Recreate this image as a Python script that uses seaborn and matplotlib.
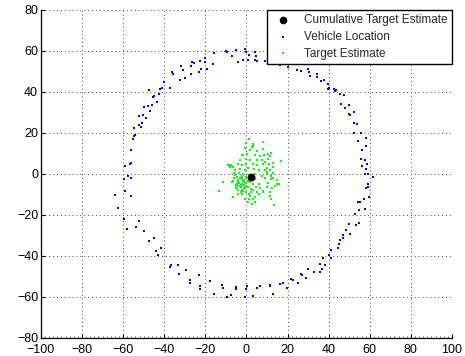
import numpy as np
import pandas as pd
import matplotlib
matplotlib.use("Agg")
import matplotlib.pyplot as plt
import seaborn as sns
from matplotlib.ticker import MultipleLocator

# Vehicle location (blue)
vehicle_x = [-9.7, -7, -5.2, -3.9, -1.8, -0.5, -0.2, 0.8, 1.1, 4.1, 4.5, 4.1, 5.3, 8.9, 11, 14.6, 16.2, 20, 20.4, 22.5,
             24.8, 26.3, 26.4, 30.1, 30.5, 30.8, 34.4, 34.5, 36.5, 37.6, 39.7, 40.2, 39.7, 42.6, 43, 43.8, 45.4, 47.3, 46.2, 48,
             50, 50, 52.5, 50.6, 52.2, 53.8, 52.2, 55.9, 54.2, 58.3, 56.4, 58, 55.6, 57.6, 56.4, 58.8, 58.3, 59.3, 57.5, 61.6,
             59.3, 59.1, 58.3, 59.6, 57, 54.3, 55.4, 57.8, 54.6, 53, 49.8, 54.9, 53.5, 48.6, 50.3, 47, 47.2, 45.4, 45.1, 44.6,
             41, 40, 41, 37.4, 35.7, 38.1, 36.8, 35.7, 32.9, 30.1, 28.8, 26.7, 26.9, 25.1, 21.7, 22.5, 17.7, 19.8, 16.5, 12.9,
             11.3, 11.7, 6.5, 5.2, 3.2, 0.3, 0, -0.8, -5.3, -5.2, -7.5, -9.7, -11.7, -11.3, -15.7, -17.5, -22.4, -22.5, -23.3, -27.6,
             -27.7, -29.2, -32.9, -33.2, -36.8, -37.1, -41.5, -42.8, -44.2, -44.9, -47.5, -49.9, -52.5, -53.8, -58.2, -59.6, -62.4, -63.9, -56.1, -59.3,
             -59.8, -57.6, -56.3, -59.3, -56.6, -56.1, -56.4, -55.4, -54.5, -54, -54.5, -52.5, -51.5, -50.6, -52.2, -50.2, -48.9, -49.8, -48.1, -46.7,
             -47.4, -45.4, -44.9, -45.9, -43.5, -42.5, -42.1, -41.2, -39.9, -37.1, -36.1, -35.7, -32.1, -31.9, -31.1, -29.7, -27.2, -26.3, -25.6, -27.2,
             -23.3, -22.7, -22, -20.3, -19.4, -20.4, -16.5, -15.7, -9.9]
vehicle_y = [59.5, 57.4, 60.6, 54.8, 55.8, 60.8, 59.5, 55.5, 58.2, 59.5, 57.4, 55.5, 55.1, 55, 54.6, 53.5, 53, 54.6, 52.2, 55,
             50.9, 53.5, 50, 51.4, 49.6, 47.6, 48.6, 47.4, 45.4, 45.7, 43.8, 42.1, 41.6, 41.6, 40.5, 40.8, 38.9, 38.4, 34.3, 32.4,
             33.5, 29.4, 30.2, 28.6, 25, 24.6, 20, 20, 16, 17.7, 11.5, 13.7, 7.2, 6.7, 3.9, 4.7, 2.3, -0.2, -0.2, -1.5,
             -5, -6.4, -6.8, -11.2, -12, -13.7, -13.7, -16.9, -17.7, -19.4, -24.6, -23.9, -24.7, -27.5, -29.1, -29.9, -31.1, -32.4, -34.3, -36.1,
             -37.2, -39.7, -40.8, -41, -43.8, -44.6, -46.2, -47.8, -47.8, -46.2, -50.7, -48.6, -49.4, -53.2, -51.1, -51.6, -53.2, -55.4, -53.5, -58.4,
             -54.8, -54.3, -54.6, -55.4, -59.6, -54.8, -56, -59.8, -55.2, -56, -58.8, -59.8, -54.3, -55.4, -58.4, -52.4, -54.6, -56, -49.5, -51.6,
             -53.2, -46.7, -48.6, -44.2, -44.6, -45.4, -36, -39.7, -37.4, -31.3, -32.7, -28, -23, -25.9, -26.9, -22.1, -16.6, -10.1, -10.7, -8.1,
             -2.4, -1, -2, 4.1, 4.9, 5.4, 11.7, 16.9, 18.5, 18.9, 22.4, 24.1, 22.9, 24.9, 28.1, 28.9, 27.5, 32.7, 33.2, 30.6,
             40.8, 37.6, 37.9, 33.7, 35.1, 38.9, 41.6, 42.1, 45, 42.1, 49.8, 48.6, 45.7, 52.5, 50.9, 47, 48.6, 54.6, 54.1, 52.5,
             49.8, 55, 51.1, 56.7, 51.4, 54.6, 53.5, 59, 59.8]

# Target estimate (green)
target_x = [1.2, 0, 3.3, 7.9, 2.5, -0.7, 1.7, -1.9, 0.4, 4.1, 6.6, 8.7, 10.5, 11.4, -3.2, -0.2, 1.7, 4.9, 7.4, 10.6,
            12.7, -8.8, -7.5, -6.4, -4, -2.3, 0, 3.3, 5.3, 7.9, 11.1, 12.7, -5.6, -3.2, -0.7, 0.9, 3.8, 6.2, 9, 11.4,
            -6.1, -3.5, -1.5, 4.1, 9.8, 13, -4.8, -2.3, 0, 4.1, 9, 11.8, -11.6, -6.7, -4, -1.9, -0.2, 1.7, 6.2, 10.6,
            14.7, 15.6, -5.1, -2.8, -1.1, 0.9, 4.6, 9.8, 12.2, -4, -1.5, 3.3, 8.2, 11.4, -13.4, -6.4, -0.7, 1.7, 4.1, 11.4,
            0.9, 2.5, 4.1, 13.3, -3, -4, -2, -3, -5, -1, 0, -2, 1, 3, 2, -1, -2, -6, -7, -4,
            3, 5, 6, 8, 12, 14, 13, 15, 10, 9, 12, 8, -2.4, 3.2, 17, -8.5, -7.8, -6.9, -6.3, 5.2,
            -3.6, -2.7, -4.4, -1.3, -0.4, 2.2, -3.9, -2.1, -5.5, 1.4, 2.8, 6.8, 7.5, 10.2, 11.9, -0.9, 0.6, -4.7, -2.6, -1.7]
target_y = [16.9, 15.1, 14.8, 15.4, 13.2, 12.8, 11.5, 9.1, 9.9, 9.4, 8.6, 9.1, 9.9, 8.6, 7, 7.5, 7, 6.7, 7, 7.5,
            5.4, 4.6, 4.2, 3.4, 5, 4.2, 5, 5, 4.2, 4.7, 5, 3.4, 2.1, 2.6, 2.1, 3.1, 2.6, 1.8, 2.1, 1.8,
            0.5, 0.5, 0.2, 0.2, 0.2, 0.5, -1.5, -1.8, -1.5, -2.3, -1.8, -2.3, -3.9, -3.4, -3.9, -3.6, -4.4, -3.9, -4.7, -4.4,
            -4.7, -4.7, -5.5, -6.3, -5.5, -6.3, -6.3, -6.3, -6.7, -8, -8.3, -8, -8.3, -8.8, -8.3, -11.2, -12, -10.9, -11.2, -10.9,
            -13.7, -14.5, -13.7, -15.3, -2, -3, -5, -6, -7, -7, -9, -10, -12, -12, -9, -3, -1, -2, -4, -10,
            -5, -9, -10, -9, -12, -6, -2, -3, 3, 6, 10, 12, 9.1, 13.7, 6.5, 4.3, 3.6, 3.9, 0.7, 11.2,
            -4.6, -5.2, -6.1, -4.1, -5.8, -7.2, -2.8, -7.6, -0.6, -9.8, -3.1, -6.8, -1.2, 1.1, -0.8, -6.9, -3.3, -4.9, -8.9, -2.7]

cum_x = [2.1]
cum_y = [-1.6]

xticks = [-100, -80, -60, -40, -20, 0, 20, 40, 60, 80, 100]
yticks = [-80, -60, -40, -20, 0, 20, 40, 60, 80]

sns.set_theme(style="white")
plt.rcParams['font.family'] = ['Liberation Sans', 'DejaVu Sans']

fig = plt.figure(figsize=(4.65, 3.56), dpi=100)
ax = fig.add_axes([0.088, 0.0506, 0.884, 0.9214])

dfv = pd.DataFrame({"x": vehicle_x, "y": vehicle_y})
dft = pd.DataFrame({"x": target_x, "y": target_y})
dfc = pd.DataFrame({"x": cum_x, "y": cum_y})

sns.scatterplot(data=dfc, x="x", y="y", ax=ax, color="black", marker="o", s=32,
                linewidth=0, label="Cumulative Target Estimate", zorder=5)
sns.scatterplot(data=dfv, x="x", y="y", ax=ax, color=(0, 0, 1), marker="s", s=3.5,
                linewidth=0, label="Vehicle Location", zorder=3)
sns.scatterplot(data=dft, x="x", y="y", ax=ax, color=(0, 1, 0), marker="s", s=3.5,
                linewidth=0, label="Target Estimate", zorder=3)

ax.set_xlim(-100, 100)
ax.set_ylim(-80, 80)
ax.set_xticks(xticks)
ax.set_yticks(yticks)
ax.set_xlabel("")
ax.set_ylabel("")
ax.xaxis.set_minor_locator(MultipleLocator(2))
ax.tick_params(axis="both", which="major", direction="in", length=3, width=0.8,
               labelsize=9, colors="black", pad=2)
ax.tick_params(axis="x", which="major", pad=4.6)
ax.tick_params(axis="x", which="minor", direction="in", length=1.5, width=0.5, bottom=True)
ax.tick_params(axis="both", which="both", top=False, right=False)
ax.tick_params(axis="x", which="major", bottom=True)
ax.tick_params(axis="y", which="major", left=True)

ax.grid(True, which="major", linestyle=(0, (1, 3)), linewidth=0.7, color="#444444")
for s in ["top", "right"]:
    ax.spines[s].set_visible(False)
for s in ["left", "bottom"]:
    ax.spines[s].set_color("black")
    ax.spines[s].set_linewidth(0.9)

leg = ax.legend(loc="upper right", bbox_to_anchor=(1.0, 1.0), fontsize=8.5, frameon=True,
                fancybox=False, borderaxespad=0.0, handletextpad=0.8, borderpad=0.35,
                labelspacing=0.4, markerscale=1.0)
leg.get_frame().set_edgecolor("black")
leg.get_frame().set_linewidth(1.0)
leg.get_frame().set_alpha(1)
for h in leg.legend_handles:
    try:
        h.set_sizes([30] if h.get_label() == "Cumulative Target Estimate" else [4])
    except Exception:
        pass

fig.savefig("out.png", dpi=100)
